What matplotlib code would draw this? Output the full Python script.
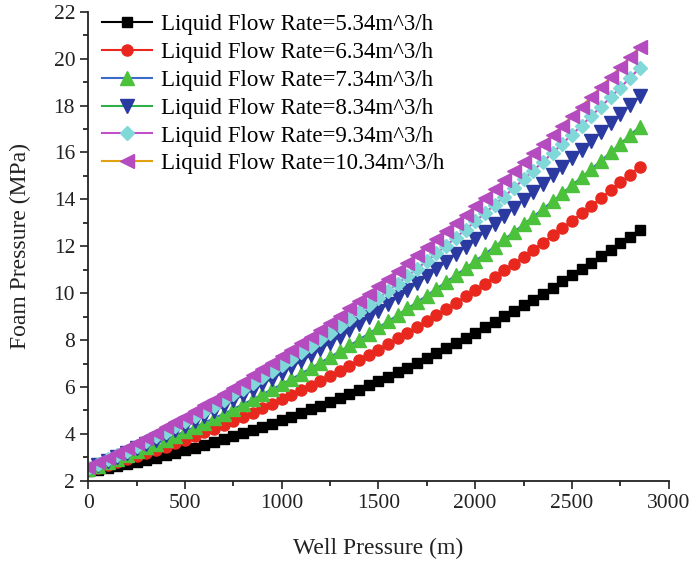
import matplotlib
matplotlib.use("Agg")
import matplotlib.pyplot as plt
from matplotlib.ticker import MultipleLocator

plt.rcParams['font.family'] = ['Liberation Serif', 'DejaVu Serif']

well_pressure = [i * 50 for i in range(58)]

series_labels = [
    "Liquid Flow Rate=5.34m^3/h",
    "Liquid Flow Rate=6.34m^3/h",
    "Liquid Flow Rate=7.34m^3/h",
    "Liquid Flow Rate=8.34m^3/h",
    "Liquid Flow Rate=9.34m^3/h",
    "Liquid Flow Rate=10.34m^3/h",
]

foam_534 = [2.40, 2.47, 2.55, 2.63, 2.71, 2.80, 2.89, 2.99, 3.09, 3.19,
            3.30, 3.41, 3.52, 3.64, 3.77, 3.89, 4.02, 4.16, 4.30, 4.44,
            4.58, 4.73, 4.89, 5.04, 5.21, 5.37, 5.54, 5.71, 5.89, 6.07,
            6.25, 6.44, 6.64, 6.83, 7.03, 7.24, 7.44, 7.65, 7.87, 8.09,
            8.31, 8.54, 8.77, 9.01, 9.24, 9.49, 9.73, 9.98, 10.24, 10.50,
            10.76, 11.02, 11.29, 11.57, 11.84, 12.12, 12.41, 12.70]
foam_634 = [2.45, 2.56, 2.68, 2.80, 2.92, 3.05, 3.18, 3.32, 3.46, 3.60,
            3.75, 3.91, 4.06, 4.22, 4.39, 4.56, 4.73, 4.91, 5.09, 5.28,
            5.47, 5.66, 5.86, 6.06, 6.27, 6.48, 6.69, 6.91, 7.14, 7.36,
            7.59, 7.83, 8.07, 8.31, 8.56, 8.81, 9.07, 9.33, 9.59, 9.86,
            10.13, 10.41, 10.69, 10.98, 11.26, 11.56, 11.85, 12.16, 12.46, 12.77,
            13.09, 13.40, 13.72, 14.05, 14.38, 14.72, 15.05, 15.40]
foam_734 = [2.50, 2.64, 2.79, 2.94, 3.09, 3.25, 3.42, 3.58, 3.75, 3.93,
            4.11, 4.29, 4.48, 4.67, 4.86, 5.06, 5.27, 5.47, 5.69, 5.90,
            6.12, 6.34, 6.57, 6.80, 7.04, 7.28, 7.52, 7.77, 8.02, 8.28,
            8.54, 8.80, 9.07, 9.35, 9.62, 9.90, 10.19, 10.48, 10.77, 11.06,
            11.37, 11.67, 11.98, 12.29, 12.61, 12.93, 13.26, 13.59, 13.92, 14.26,
            14.60, 14.94, 15.29, 15.65, 16.00, 16.37, 16.73, 17.10]
foam_834 = [2.50, 2.67, 2.84, 3.01, 3.19, 3.38, 3.56, 3.75, 3.95, 4.15,
            4.35, 4.56, 4.77, 4.98, 5.20, 5.43, 5.65, 5.88, 6.12, 6.36,
            6.60, 6.85, 7.10, 7.35, 7.61, 7.88, 8.14, 8.41, 8.69, 8.97,
            9.25, 9.54, 9.83, 10.12, 10.42, 10.73, 11.03, 11.34, 11.66, 11.98,
            12.30, 12.63, 12.96, 13.29, 13.63, 13.98, 14.32, 14.67, 15.03, 15.39,
            15.75, 16.12, 16.49, 16.86, 17.24, 17.63, 18.01, 18.40]
foam_934 = [2.55, 2.73, 2.91, 3.10, 3.29, 3.49, 3.69, 3.90, 4.10, 4.32,
            4.54, 4.76, 4.98, 5.21, 5.45, 5.69, 5.93, 6.18, 6.43, 6.69,
            6.95, 7.21, 7.48, 7.76, 8.03, 8.32, 8.60, 8.89, 9.19, 9.49,
            9.79, 10.10, 10.41, 10.73, 11.05, 11.37, 11.70, 12.03, 12.37, 12.71,
            13.06, 13.41, 13.76, 14.12, 14.49, 14.85, 15.23, 15.60, 15.98, 16.37,
            16.76, 17.15, 17.55, 17.95, 18.35, 18.76, 19.18, 19.60]
foam_1034 = [2.60, 2.79, 2.99, 3.20, 3.40, 3.61, 3.83, 4.05, 4.28, 4.50,
             4.74, 4.97, 5.22, 5.46, 5.71, 5.97, 6.22, 6.49, 6.75, 7.02,
             7.30, 7.58, 7.86, 8.15, 8.45, 8.74, 9.04, 9.35, 9.66, 9.97,
             10.29, 10.61, 10.94, 11.27, 11.61, 11.95, 12.29, 12.64, 12.99, 13.35,
             13.71, 14.07, 14.44, 14.82, 15.20, 15.58, 15.97, 16.36, 16.75, 17.15,
             17.56, 17.96, 18.38, 18.79, 19.21, 19.64, 20.07, 20.50]

x_ticks = [0, 500, 1000, 1500, 2000, 2500, 3000]
y_ticks = [2, 4, 6, 8, 10, 12, 14, 16, 18, 20, 22]

all_series = [foam_534, foam_634, foam_734, foam_834, foam_934, foam_1034]
line_colors = ['#000000', '#e8281e', '#3a6cc8', '#2fae4a', '#c050c8', '#e0a010']
marker_colors = ['#000000', '#e8281e', '#4cc23c', '#2a3aa0', '#80d8d8', '#b44cc0']
markers = ['s', 'o', '^', 'v', 'D', '<']
msizes = [7.5, 8, 9.5, 9.5, 7.5, 9.5]

fig = plt.figure(figsize=(6.9, 5.61), dpi=100)
ax = fig.add_axes([0.128, 0.143, 0.841, 0.836])

for ys, lab, lc, mc, mk, ms in zip(all_series, series_labels, line_colors,
                                   marker_colors, markers, msizes):
    ax.plot(well_pressure, ys, color=lc, lw=1.5, marker=mk, markersize=ms,
            markerfacecolor=mc, markeredgecolor=mc, label=lab)

ax.set_xlim(0, 3000)
ax.set_ylim(2, 22)
ax.set_xticks(x_ticks)
ax.set_yticks(y_ticks)
ax.xaxis.set_minor_locator(MultipleLocator(250))
ax.yaxis.set_minor_locator(MultipleLocator(1))
ax.tick_params(which='major', direction='out', length=6, width=1.2,
               labelsize=15.5, colors='#222222')
ax.tick_params(which='minor', direction='out', length=3.5, width=1.1)
for s in ['top', 'right']:
    ax.spines[s].set_visible(False)
for s in ['left', 'bottom']:
    ax.spines[s].set_linewidth(1.3)
    ax.spines[s].set_color('#222222')

ax.set_xlabel('Well Pressure (m)', fontsize=17, color='#222222', labelpad=18)
ax.set_ylabel('Foam Pressure (MPa)', fontsize=17, color='#222222', labelpad=16)

ax.legend(loc='upper left', bbox_to_anchor=(0.0, 1.025), frameon=False,
          fontsize=16.5, handlelength=2.2, handletextpad=0.35, labelspacing=0.3,
          borderaxespad=0.2)

fig.savefig('out.png', dpi=100)
